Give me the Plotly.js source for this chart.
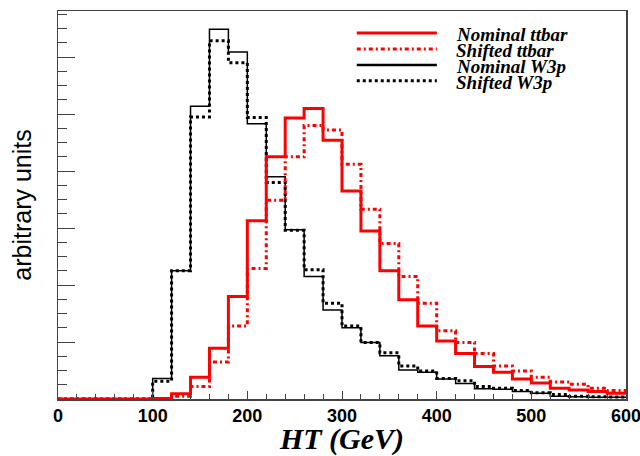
<!DOCTYPE html>
<html>
<head>
<meta charset="utf-8">
<script src="https://cdn.plot.ly/plotly-3.0.1.min.js"></script>
<style>
  html, body { margin: 0; padding: 0; background: #fff; }
  #chart { width: 640px; height: 456px; }
</style>
</head>
<body>
<div id="chart"></div>
<script>
// Bin low edges (GeV), 20 GeV bins from 0 to 600, plus upper edge
const binEdges = [0, 20, 40, 60, 80, 100, 120, 140, 160, 180, 200, 220, 240, 260, 280,
  300, 320, 340, 360, 380, 400, 420, 440, 460, 480, 500, 520, 540, 560, 580, 600];

const nominalTtbar = [0, 0, 0, 0, 0, 0.01, 0.09, 0.38, 0.89, 1.80, 3.13, 4.25, 4.93, 5.10, 4.54,
  3.65, 2.95, 2.25, 1.74, 1.28, 1.02, 0.80, 0.57, 0.47, 0.35, 0.28, 0.19, 0.16, 0.13, 0.10];
const shiftedTtbar = [0, 0, 0, 0, 0, 0.01, 0.05, 0.22, 0.65, 1.28, 2.29, 3.49, 4.25, 4.80, 4.72,
  4.12, 3.33, 2.73, 2.15, 1.68, 1.20, 0.99, 0.80, 0.58, 0.49, 0.38, 0.30, 0.26, 0.19, 0.15];
const nominalW3p = [0, 0, 0, 0, 0, 0.36, 2.25, 5.14, 6.49, 6.09, 4.83, 3.90, 2.97, 2.15, 1.56,
  1.25, 0.99, 0.76, 0.51, 0.47, 0.35, 0.27, 0.18, 0.17, 0.13, 0.10, 0.05, 0.04, 0.03, 0.03];
const shiftedW3p = [0, 0, 0, 0, 0, 0.31, 2.25, 4.95, 6.29, 5.90, 4.94, 3.80, 2.96, 2.27, 1.68,
  1.28, 0.99, 0.81, 0.58, 0.49, 0.36, 0.32, 0.22, 0.19, 0.15, 0.11, 0.08, 0.05, 0.04, 0.035];

const seriesNames = ["Nominal ttbar", "Shifted ttbar", "Nominal W3p", "Shifted W3p"];
const xTickLabels = ["0", "100", "200", "300", "400", "500", "600"];
const xTickValues = [0, 100, 200, 300, 400, 500, 600];

// histogram step: repeat last value at upper edge
function stepY(vals) { return vals.concat([vals[vals.length - 1]]); }

const styles = [
  { color: "#ff0000", width: 3, dash: "solid" },
  { color: "#ff0000", width: 3, dash: "4px,3px,2px,3px" },
  { color: "#000000", width: 1.5, dash: "solid" },
  { color: "#000000", width: 3, dash: "3px,3px" }
];
const legendWidths = [3, 3, 2.5, 3];
const seriesValues = [nominalTtbar, shiftedTtbar, nominalW3p, shiftedW3p];

// draw W3p first, ttbar on top
const order = [3, 2, 1, 0];
const traces = order.map(i => ({
  type: "scatter", mode: "lines",
  x: binEdges, y: stepY(seriesValues[i]),
  line: { shape: "hv", color: styles[i].color, width: styles[i].width, dash: styles[i].dash },
  name: seriesNames[i], showlegend: false, hoverinfo: "skip"
}));

// manual legend (compact spacing like original)
const legY = [0.943, 0.902, 0.861, 0.820];
const shapes = [];
const annotations = [];
seriesNames.forEach((nm, i) => {
  shapes.push({
    type: "line", xref: "paper", yref: "paper",
    x0: 0.526, x1: 0.667, y0: legY[i], y1: legY[i],
    line: { color: styles[i].color, width: legendWidths[i], dash: styles[i].dash }
  });
  annotations.push({
    xref: "paper", yref: "paper", x: 0.697, y: legY[i] - 0.004,
    xanchor: "left", yanchor: "middle", showarrow: false,
    text: "<b><i>" + nm + "</i></b>",
    font: { family: "Liberation Serif, Times New Roman, serif", size: 19, color: "#000" }
  });
});

const layout = {
  width: 640, height: 456,
  margin: { l: 58, r: 14, t: 11, b: 57, pad: 0 },
  paper_bgcolor: "#fff", plot_bgcolor: "#fff",
  showlegend: false,
  xaxis: {
    range: [0, 600], tickvals: xTickValues, ticktext: xTickLabels,
    ticklabeloverflow: "allow",
    ticks: "inside", ticklen: 8, tickwidth: 1, tickcolor: "#444",
    minor: { dtick: 20, ticks: "inside", ticklen: 5, tickcolor: "#444" },
    showgrid: false, zeroline: false,
    showline: true, linecolor: "#444", linewidth: 1.5, mirror: true,
    tickfont: { family: "Liberation Sans, Arial, sans-serif", size: 18, color: "#000", weight: "bold" },
    title: { text: "<b><i>HT (GeV)</i></b>", standoff: 16,
      font: { family: "Liberation Serif, Times New Roman, serif", size: 30, color: "#000" } }
  },
  yaxis: {
    range: [0, 6.81], dtick: 1, tick0: 0,
    ticks: "inside", ticklen: 17, tickwidth: 1, tickcolor: "#444",
    minor: { dtick: 0.25, ticks: "inside", ticklen: 9, tickcolor: "#444" },
    showticklabels: false,
    showgrid: false, zeroline: false,
    showline: true, linecolor: "#444", linewidth: 1.5, mirror: true,
    title: { text: "arbitrary units", standoff: 18,
      font: { family: "Liberation Sans, Arial, sans-serif", size: 25, color: "#000" } }
  },
  shapes: shapes,
  annotations: annotations
};

Plotly.newPlot("chart", traces, layout, { staticPlot: true, displayModeBar: false });
</script>
</body>
</html>
